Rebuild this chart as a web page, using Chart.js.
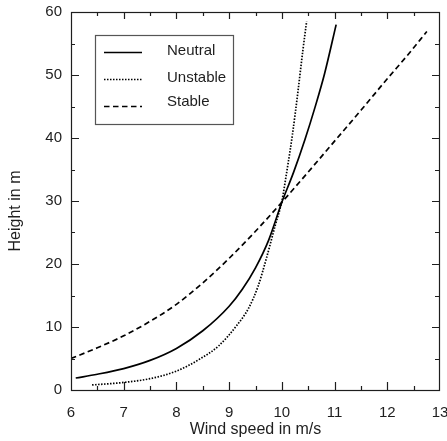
<!DOCTYPE html>
<html>
<head>
<meta charset="utf-8">
<script src="https://cdn.jsdelivr.net/npm/chart.js@4"></script>
<style>
html,body{margin:0;padding:0;background:#fff;}
#wrap{width:447px;height:441px;}
</style>
</head>
<body>
<div id="wrap"><canvas id="c" width="447" height="441"></canvas></div>
<script>
// ---- data ----
const seriesNames = ["Neutral", "Unstable", "Stable"];
const neutralX  = [6.09, 6.5, 7.0, 7.5, 8.0, 8.5, 9.0, 9.25, 9.5, 9.75, 10.0, 10.22, 10.44, 10.63, 10.81, 11.03];
const neutralY  = [1.9, 2.5, 3.4, 4.7, 6.6, 9.4, 13.3, 16.0, 19.4, 23.8, 29.8, 34.5, 39.8, 44.9, 50.2, 58.0];
const unstableX = [6.4, 7.0, 7.5, 8.0, 8.42, 8.8, 9.14, 9.37, 9.55, 9.71, 9.87, 10.0, 10.1, 10.2, 10.3, 10.4, 10.47];
const unstableY = [0.8, 1.2, 1.8, 3.0, 4.8, 7.0, 10.2, 13.0, 16.5, 21.0, 26.0, 30.0, 35.0, 40.5, 47.0, 54.0, 58.5];
const stableX   = [6.0, 6.5, 7.0, 7.5, 8.0, 8.5, 9.0, 9.5, 10.0, 10.5, 11.0, 11.5, 12.0, 12.4, 12.75];
const stableY   = [5.0, 6.7, 8.6, 10.9, 13.6, 17.0, 20.9, 25.2, 29.8, 34.6, 39.5, 44.4, 49.4, 53.3, 56.9];
const xTicks = [6, 7, 8, 9, 10, 11, 12, 13];
const yTicks = [0, 10, 20, 30, 40, 50, 60];
const xTitle = "Wind speed in m/s";
const yTitle = "Height in m";

const pts = (xs, ys) => xs.map((x, i) => ({x: x, y: ys[i]}));
const ink = "#1e1e1e";
const FONT = "'Liberation Sans', Arial, Helvetica, sans-serif";

const styles = [
  {borderDash: []},
  {borderDash: [1.5, 1.5]},
  {borderDash: [5.5, 3.5]}
];
const seriesData = [pts(neutralX, neutralY), pts(unstableX, unstableY), pts(stableX, stableY)];

// Inward ticks, frame, titles and legend box
const framePlugin = {
  id: "frame",
  afterDraw(chart) {
    const ctx = chart.ctx, a = chart.chartArea;
    const xs = chart.scales.x, ys = chart.scales.y;
    ctx.save();
    ctx.strokeStyle = ink;
    ctx.lineWidth = 1.2;
    ctx.strokeRect(a.left + 0.5, a.top + 0.5, a.right - a.left - 1, a.bottom - a.top);
    ctx.beginPath();
    for (let i = 0; i < xTicks.length; i++) {
      const v = xTicks[i];
      const px = Math.round(xs.getPixelForValue(v)) + 0.5;
      if (i !== 0 && i !== xTicks.length - 1) {
        ctx.moveTo(px, a.bottom); ctx.lineTo(px, a.bottom - 8);
        ctx.moveTo(px, a.top); ctx.lineTo(px, a.top + 7);
      }
      if (i < xTicks.length - 1) {
        const m = Math.round(xs.getPixelForValue((v + xTicks[i + 1]) / 2)) + 0.5;
        ctx.moveTo(m, a.bottom); ctx.lineTo(m, a.bottom - 4);
        ctx.moveTo(m, a.top); ctx.lineTo(m, a.top + 4);
      }
    }
    for (let i = 0; i < yTicks.length; i++) {
      const v = yTicks[i];
      const py = Math.round(ys.getPixelForValue(v)) + 0.5;
      if (i !== 0 && i !== yTicks.length - 1) {
        ctx.moveTo(a.left, py); ctx.lineTo(a.left + 8, py);
        ctx.moveTo(a.right, py); ctx.lineTo(a.right - 8, py);
      }
      if (i < yTicks.length - 1) {
        const m = Math.round(ys.getPixelForValue((v + yTicks[i + 1]) / 2)) + 0.5;
        ctx.moveTo(a.left, m); ctx.lineTo(a.left + 4, m);
        ctx.moveTo(a.right, m); ctx.lineTo(a.right - 5, m);
      }
    }
    ctx.stroke();

    // axis titles
    ctx.fillStyle = ink;
    ctx.font = "16px " + FONT;
    ctx.textAlign = "center";
    ctx.textBaseline = "middle";
    ctx.fillText(xTitle, (a.left + a.right) / 2, 430);
    ctx.save();
    ctx.translate(16, 211);
    ctx.rotate(-Math.PI / 2);
    ctx.fillText(yTitle, 0, 0);
    ctx.restore();

    // legend box
    const bx = 95.5, by = 35.5, bw = 138, bh = 89;
    ctx.strokeStyle = "#555";
    ctx.lineWidth = 1.2;
    ctx.strokeRect(bx, by, bw, bh);
    const rows = [52, 79, 106];
    ctx.font = "15px " + FONT;
    ctx.textAlign = "left";
    ctx.textBaseline = "middle";
    chart.data.datasets.forEach((ds, i) => {
      ctx.beginPath();
      ctx.strokeStyle = "#000";
      ctx.lineWidth = ds.borderWidth;
      ctx.setLineDash(ds.borderDash || []);
      ctx.moveTo(104, rows[i] + 0.5);
      ctx.lineTo(142, rows[i] + 0.5);
      ctx.stroke();
      ctx.setLineDash([]);
      ctx.fillText(ds.label, 167, rows[i] - (i === 2 ? 4 : 1));
    });
    ctx.restore();
  }
};

new Chart(document.getElementById("c"), {
  type: "scatter",
  data: {
    datasets: seriesNames.map((name, i) => ({
      label: name,
      data: seriesData[i],
      showLine: true,
      borderColor: "#000",
      borderWidth: 1.7,
      borderDash: styles[i].borderDash,
      pointRadius: 0,
      fill: false,
      cubicInterpolationMode: "monotone"
    }))
  },
  options: {
    responsive: false,
    animation: false,
    layout: {padding: {left: 0, top: 12, right: 7, bottom: 0}},
    plugins: {legend: {display: false}, tooltip: {enabled: false}},
    scales: {
      x: {
        type: "linear", min: 6, max: 13,
        afterBuildTicks: s => { s.ticks = xTicks.map(v => ({value: v})); },
        afterFit: s => { s.height = 51; s.paddingLeft = 0; s.paddingRight = 0; },
        grid: {display: false, drawTicks: false},
        border: {display: false},
        ticks: {padding: 14, color: ink, font: {family: FONT, size: 15}, maxRotation: 0},
        title: {display: false}
      },
      y: {
        type: "linear", min: 0, max: 60,
        afterBuildTicks: s => { s.ticks = yTicks.map(v => ({value: v})); },
        afterFit: s => { s.width = 71; s.paddingTop = 0; s.paddingBottom = 0; },
        grid: {display: false, drawTicks: false},
        border: {display: false},
        ticks: {padding: 9, color: ink, font: {family: FONT, size: 15}},
        title: {display: false}
      }
    }
  },
  plugins: [framePlugin]
});
</script>
</body>
</html>
